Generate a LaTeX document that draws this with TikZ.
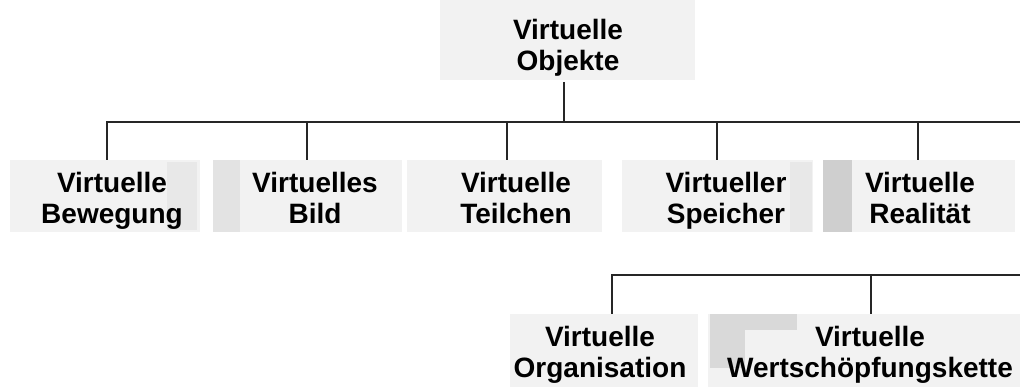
\documentclass[tikz,border=0pt]{standalone}
\usepackage{fontspec}
\setmainfont{Liberation Sans}
\begin{document}
\begin{tikzpicture}[x=1pt,y=-1pt,
  box/.style={draw=none,fill=gray!10,inner sep=0pt,anchor=north west},
  lbl/.style={align=center,anchor=base,inner sep=0pt,
    font=\bfseries\fontsize{28}{31}\selectfont},
  wire/.style={line width=1.3pt,draw=black!85}]
\useasboundingbox (0,0) rectangle (1020,387);

% boxes
\node[box,minimum width=255pt,minimum height=80pt] (obj) at (440,0) {};
\node[box,minimum width=190pt,minimum height=72pt] (bew) at (10,160) {};
\node[box,minimum width=189pt,minimum height=72pt] (bild) at (213,160) {};
\node[box,minimum width=195pt,minimum height=72pt] (teil) at (407,160) {};
\node[box,minimum width=191pt,minimum height=72pt] (spei) at (622,160) {};
\node[box,minimum width=192pt,minimum height=72pt] (real) at (823,160) {};
\node[box,minimum width=188pt,minimum height=73pt] (org) at (510,314) {};
\node[box,minimum width=312pt,minimum height=73pt] (wert) at (708,314) {};

% darker shading inside some boxes
\fill[gray!18] (167,162) rectangle (197,230);
\fill[gray!22] (213,160) rectangle (240,232);
\fill[gray!18] (790,162) rectangle (812,232);
\fill[gray!38] (823,160) rectangle (852,232);
\fill[gray!30] (710,314) rectangle (797,330);
\fill[gray!30] (710,330) rectangle (745,368);

% labels (anchored on the baseline of the second line)
\node[lbl] (tobj) at (568,71) {Virtuelle\\Objekte};
\node[lbl] (tbew) at (112,224) {Virtuelle\\Bewegung};
\node[lbl] (tbild) at (315,224) {Virtuelles\\Bild};
\node[lbl] (tteil) at (516,224) {Virtuelle\\Teilchen};
\node[lbl] (tspei) at (726,224) {Virtueller\\Speicher};
\node[lbl] (treal) at (920,224) {Virtuelle\\Realität};
\node[lbl] (torg) at (600,377) {Virtuelle\\Organisation};
\node[lbl] (twert) at (870,377) {Virtuelle\\Wertschöpfungskette};

% bus lines
\coordinate (top) at (564,82);
\coordinate (busL) at (107,122);
\coordinate (busR) at (1020,122);
\coordinate (bus2L) at (612,275);
\coordinate (bus2R) at (1020,275);
\coordinate (dbew) at (107,160);
\coordinate (dbild) at (307,160);
\coordinate (dteil) at (507,160);
\coordinate (dspei) at (717,160);
\coordinate (dreal) at (918,160);
\coordinate (dorg) at (612,314);
\coordinate (dwert) at (871,314);

\draw[wire] (top) -- (top |- busL);
\draw[wire] (dbew) -- (busL) -- (busR);
\draw[wire] (dbild) -- (dbild |- busL);
\draw[wire] (dteil) -- (dteil |- busL);
\draw[wire] (dspei) -- (dspei |- busL);
\draw[wire] (dreal) -- (dreal |- busL);
\draw[wire] (dorg) -- (bus2L) -- (bus2R);
\draw[wire] (dwert) -- (dwert |- bus2L);
\end{tikzpicture}
\end{document}
